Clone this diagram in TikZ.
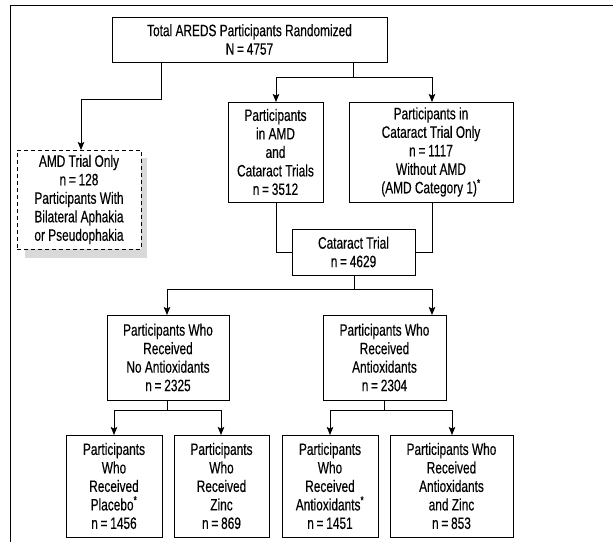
\documentclass[tikz,border=0pt]{standalone}
\usepackage{fontspec}
\setmainfont{Liberation Sans}[FakeStretch=0.72,FakeBold=0.3]
\usetikzlibrary{arrows.meta}
\newcommand{\eqs}{\,=\,}
\begin{document}
\begin{tikzpicture}[x=1pt,y=-1pt,
  every node/.style={font=\fontsize{16.5}{18.5}\selectfont},
  box/.style={draw, line width=0.9pt, inner sep=0pt, align=center},
  conn/.style={line width=0.9pt},
  arr/.style={line width=0.9pt, -{Stealth[length=8pt,width=6.5pt,inset=1.5pt]}},
  frame/.style={line width=1.6pt}
]
\useasboundingbox (0,0) rectangle (613,542);
\draw[frame] (10.5,542) -- (10.5,5.5) -- (613,5.5);

% nodes
\node[box, minimum width=275pt, minimum height=45pt] (top) at (249.5,39.5)
  {Total AREDS Participants Randomized\\N\eqs 4757};
\fill[gray!30] (25,158) rectangle (147,258);
\node[box, dashed, dash pattern=on 4pt off 3pt, fill=white, minimum width=124pt, minimum height=99pt] (amd) at (79,199.5)
  {AMD Trial Only\\n\eqs 128\\Participants With\\Bilateral Aphakia\\or Pseudophakia};
\node[box, minimum width=95pt, minimum height=100pt] (both) at (275.5,152)
  {Participants\\in AMD\\and\\Cataract Trials\\n\eqs 3512};
\node[box, minimum width=164pt, minimum height=100pt] (catonly) at (431,152)
  {Participants in\\Cataract Trial Only\\n\eqs 1117\\Without AMD\\(AMD Category 1)\textsuperscript{*}};
\node[box, minimum width=123pt, minimum height=46pt] (cat) at (353.5,252)
  {Cataract Trial\\n\eqs 4629};
\node[box, minimum width=122pt, minimum height=85pt] (noanti) at (168,357.5)
  {Participants Who\\Received\\No Antioxidants\\n\eqs 2325};
\node[box, minimum width=123pt, minimum height=85pt] (anti) at (384.5,357.5)
  {Participants Who\\Received\\Antioxidants\\n\eqs 2304};
\node[box, minimum width=96pt, minimum height=102pt] (b1) at (114,486)
  {Participants\\Who\\Received\\Placebo\textsuperscript{*}\\n\eqs 1456};
\node[box, minimum width=95pt, minimum height=102pt] (b2) at (221.5,486)
  {Participants\\Who\\Received\\Zinc\\n\eqs 869};
\node[box, minimum width=96pt, minimum height=102pt] (b3) at (330,486)
  {Participants\\Who\\Received\\Antioxidants\textsuperscript{*}\\n\eqs 1451};
\node[box, minimum width=123pt, minimum height=102pt] (b4) at (451.5,486)
  {Participants Who\\Received\\Antioxidants\\and Zinc\\n\eqs 853};

% connectors
\coordinate (t1) at (161,62);
\coordinate (t2) at (353,62);
\draw[arr] (t1) -- (161,99) -- (81,99) -- (81,150);
\draw[conn] (t2) -- (353,77);
\draw[arr] (353,77) -- (276,77) -- (276,102);
\draw[arr] (353,77) -- (432,77) -- (432,102);

\draw[conn] (276,202) -- (276,252) -- (cat.west);
\draw[conn] (432,202) -- (432,252) -- (cat.east);

\draw[conn] (354,275) -- (354,289);
\draw[arr] (354,289) -- (167,289) -- (167,315);
\draw[arr] (354,289) -- (432,289) -- (432,315);

\draw[conn] (167,400) -- (167,410);
\draw[arr] (167,410) -- (114,410) -- (114,435);
\draw[arr] (167,410) -- (221,410) -- (221,435);

\draw[conn] (384,400) -- (384,410);
\draw[arr] (384,410) -- (330,410) -- (330,435);
\draw[arr] (384,410) -- (452,410) -- (452,435);
\end{tikzpicture}
\end{document}
